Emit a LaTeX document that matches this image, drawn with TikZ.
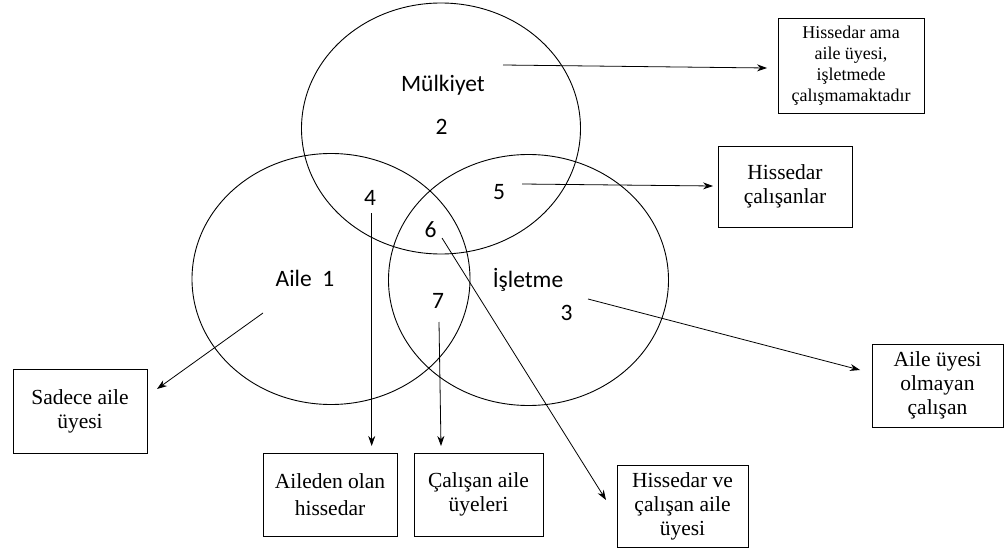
\documentclass[tikz,border=0pt]{standalone}
\usepackage{fontspec}
\setmainfont{Liberation Serif}
\newfontfamily\calfont{Carlito}
\usetikzlibrary{shapes.geometric,arrows.meta}
\begin{document}
\begin{tikzpicture}[x=1pt,y=-1pt,
  circ/.style={ellipse,draw,line width=0.9pt,inner sep=0pt},
  lbl/.style={font=\calfont\fontsize{23.5}{26}\selectfont,anchor=base,inner sep=0pt},
  box/.style={draw,line width=0.9pt,align=center,inner sep=2pt,
    font=\fontsize{21.5}{24}\selectfont},
  arr/.style={line width=0.8pt,-{Stealth[length=10pt,width=7pt]}}]
\useasboundingbox (0,0) rectangle (1005,551);
% ellipses
\node[circ,minimum width=279pt,minimum height=251pt] (M) at (441,128.5) {};
\node[circ,minimum width=278pt,minimum height=251pt] (A) at (331,279) {};
\node[circ,minimum width=280pt,minimum height=251pt] (I) at (528.5,280) {};
% labels
\node[lbl] (lM) at (443,91.7) {Mülkiyet};
\node[lbl] (l2) at (441.7,135) {2};
\node[lbl] (l4) at (370,205) {4};
\node[lbl] (l5) at (499,199) {5};
\node[lbl] (l6) at (430.7,237.7) {6};
\node[lbl] (lA) at (305,286) {Aile~~1};
\node[lbl] (lI) at (528,287) {İşletme};
\node[lbl] (l7) at (438,308) {7};
\node[lbl] (l3) at (566.7,320) {3};
% boxes
\node[box,minimum width=146pt,minimum height=95pt,font=\fontsize{18}{21}\selectfont] (B1) at (851,65.5)
  {Hissedar ama\\aile üyesi,\\işletmede\\çalışmamaktadır};
\node[box,minimum width=134pt,minimum height=81pt] (B2) at (785,186.5) {Hissedar\\çalışanlar};
\node[box,minimum width=131pt,minimum height=83pt] (B3) at (937.5,385.5) {Aile üyesi\\olmayan\\çalışan};
\node[box,minimum width=134pt,minimum height=84pt] (B4) at (80,411) {Sadece aile\\üyesi};
\node[box,minimum width=134pt,minimum height=83pt,font=\fontsize{21.5}{27}\selectfont] (B5) at (330,494.5) {Aileden olan\\hissedar};
\node[box,minimum width=129pt,minimum height=83pt] (B6) at (478.5,494.5) {Çalışan aile\\üyeleri};
\node[box,minimum width=131pt,minimum height=82pt] (B7) at (682.5,506) {Hissedar ve\\çalışan aile\\üyesi};
% connector ends
\coordinate (sM) at (503,65);  \coordinate (tM) at (767,68);
\coordinate (s5) at (522,184); \coordinate (t5) at (713,186);
\coordinate (s3) at (588,299); \coordinate (t3) at (860,370);
\coordinate (s1) at (263,313); \coordinate (t1) at (157,389);
\coordinate (s4) at (371.7,213); \coordinate (t4) at (371.7,446);
\coordinate (s7) at (439,322); \coordinate (t7) at (441,446);
\coordinate (s6) at (442,238); \coordinate (t6) at (606,500);
% connectors
\draw[arr] (sM) -- (tM);
\draw[arr] (s5) -- (t5);
\draw[arr] (s3) -- (t3);
\draw[arr] (s1) -- (t1);
\draw[arr] (s4) -- (t4);
\draw[arr] (s7) -- (t7);
\draw[arr] (s6) -- (t6);
\end{tikzpicture}
\end{document}
